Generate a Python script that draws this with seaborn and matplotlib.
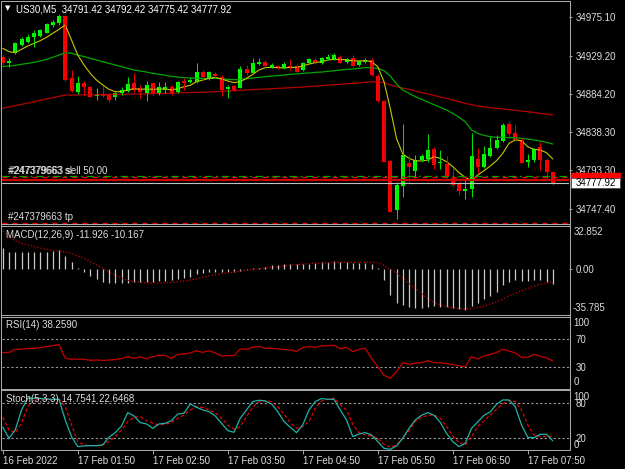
import numpy as np
import pandas as pd
import seaborn as sns
import matplotlib.pyplot as plt
from matplotlib.lines import Line2D
from matplotlib.patches import Rectangle

# ---- data (US30, M5) ----
opens = [
    34928.4, 34920.4, 34932.3, 34942.6, 34946.2, 34951.3, 34952.9, 34956.9, 34966.0, 34968.0,
    34976.7, 34902.6, 34886.8, 34897.5, 34891.9, 34882.0, 34884.0, 34882.4, 34880.8, 34885.6,
    34888.0, 34897.5, 34890.7, 34884.8, 34896.7, 34885.6, 34888.8, 34891.9, 34886.8, 34899.8,
    34898.3, 34898.7, 34910.5, 34901.4, 34907.8, 34904.6, 34889.6, 34893.5, 34891.5, 34913.3,
    34908.6, 34919.6, 34922.4, 34915.7, 34917.3, 34914.5, 34917.3, 34917.3, 34912.5, 34920.4,
    34924.4, 34920.4, 34925.2, 34925.6, 34928.4, 34921.6, 34926.4, 34918.1, 34922.0, 34924.4,
    34905.4, 34876.1, 34804.4, 34746.2, 34775.1, 34802.4, 34792.5, 34805.6, 34806.4, 34818.3,
    34801.6, 34800.8, 34784.6, 34777.1, 34769.2, 34771.1, 34806.4, 34797.7, 34810.4, 34820.3,
    34828.2, 34848.4, 34838.1, 34829.4, 34803.6, 34805.6, 34821.4, 34805.6, 34791.42]
highs = [
    34930.3, 34926.4, 34946.2, 34951.3, 34954.9, 34960.0, 34960.8, 34968.8, 34971.9, 34979.0,
    34977.9, 34912.5, 34905.8, 34899.8, 34893.5, 34891.5, 34893.5, 34884.8, 34886.8, 34892.7,
    34904.6, 34908.6, 34894.7, 34899.8, 34898.7, 34898.7, 34898.7, 34894.7, 34899.8, 34902.6,
    34902.6, 34920.4, 34912.5, 34910.9, 34910.5, 34906.6, 34894.7, 34894.3, 34917.3, 34918.5,
    34926.4, 34926.4, 34924.4, 34921.2, 34918.5, 34922.0, 34925.2, 34919.6, 34922.4, 34926.4,
    34926.4, 34928.4, 34931.1, 34932.3, 34929.9, 34927.2, 34929.9, 34924.4, 34926.4, 34926.4,
    34907.4, 34876.9, 34805.6, 34779.9, 34848.4, 34811.5, 34811.5, 34812.3, 34836.5, 34821.4,
    34817.5, 34810.7, 34795.7, 34779.9, 34782.6, 34838.1, 34819.5, 34822.2, 34833.3, 34835.3,
    34849.2, 34851.9, 34847.2, 34831.3, 34812.7, 34820.3, 34827.4, 34807.6, 34792.42]
lows = [
    34918.5, 34915.7, 34931.5, 34941.0, 34944.2, 34940.2, 34952.1, 34956.1, 34964.0, 34966.0,
    34899.8, 34886.8, 34883.6, 34882.8, 34880.0, 34876.9, 34880.8, 34874.9, 34876.9, 34882.8,
    34886.8, 34886.8, 34878.9, 34876.1, 34882.8, 34882.8, 34884.8, 34882.8, 34885.6, 34888.8,
    34896.7, 34897.5, 34900.6, 34900.6, 34903.4, 34881.6, 34878.9, 34888.0, 34890.7, 34906.6,
    34907.8, 34918.5, 34915.7, 34914.5, 34913.3, 34913.3, 34912.5, 34908.6, 34911.3, 34919.2,
    34919.2, 34919.2, 34924.4, 34924.4, 34920.4, 34920.8, 34916.5, 34917.3, 34920.4, 34905.4,
    34874.9, 34802.8, 34743.4, 34735.5, 34762.0, 34779.9, 34783.8, 34804.4, 34803.6, 34794.5,
    34794.5, 34783.8, 34773.9, 34764.0, 34758.9, 34761.2, 34789.8, 34795.7, 34809.6, 34818.3,
    34827.4, 34833.3, 34828.2, 34801.6, 34796.9, 34803.6, 34793.7, 34781.8, 34775.42]
closes = [
    34921.2, 34923.6, 34945.0, 34948.9, 34952.1, 34956.9, 34960.0, 34967.2, 34969.9, 34976.7,
    34900.6, 34888.0, 34896.7, 34891.9, 34880.8, 34883.2, 34882.0, 34876.9, 34884.8, 34888.4,
    34895.9, 34888.8, 34886.8, 34894.7, 34884.0, 34892.7, 34891.9, 34884.0, 34898.7, 34896.7,
    34900.6, 34910.5, 34904.6, 34910.1, 34905.4, 34888.8, 34892.7, 34888.8, 34913.3, 34908.6,
    34920.4, 34922.4, 34917.3, 34918.5, 34914.5, 34919.6, 34915.7, 34910.5, 34921.2, 34925.2,
    34921.2, 34926.8, 34927.6, 34929.9, 34921.2, 34926.0, 34917.7, 34923.2, 34924.4, 34906.6,
    34876.1, 34803.6, 34744.2, 34775.9, 34811.5, 34797.7, 34805.6, 34810.7, 34817.5, 34799.7,
    34803.6, 34785.0, 34775.9, 34768.8, 34770.8, 34810.4, 34796.9, 34812.7, 34820.3, 34829.4,
    34847.2, 34836.5, 34829.4, 34802.4, 34805.6, 34818.3, 34805.6, 34791.7, 34777.92]

ma_fast = [
    34938.3, 34934.3, 34933.1, 34937.1, 34941.0, 34944.2, 34947.4, 34951.3, 34956.1, 34960.8,
    34966.0, 34948.2, 34930.3, 34918.5, 34908.6, 34900.6, 34894.7, 34889.6, 34886.8, 34886.8,
    34888.8, 34890.3, 34889.6, 34890.0, 34889.6, 34890.0, 34890.0, 34888.8, 34890.3, 34892.7,
    34894.3, 34898.7, 34900.6, 34902.6, 34903.8, 34901.8, 34899.5, 34897.5, 34898.7, 34902.6,
    34907.4, 34912.5, 34915.3, 34915.7, 34915.3, 34915.0, 34915.7, 34915.7, 34917.3, 34919.6,
    34921.2, 34922.4, 34924.4, 34925.2, 34925.2, 34924.4, 34923.6, 34923.2, 34923.6, 34922.4,
    34916.5, 34898.7, 34867.0, 34831.3, 34812.7, 34807.6, 34804.8, 34804.4, 34805.6, 34809.6,
    34807.6, 34803.6, 34797.7, 34790.6, 34785.0, 34781.0, 34787.8, 34792.9, 34798.5, 34804.8,
    34813.5, 34825.4, 34829.4, 34828.6, 34821.4, 34818.3, 34817.5, 34814.3, 34806.8]
ma_mid = [
    34916.5, 34917.3, 34918.1, 34919.3, 34920.4, 34921.6, 34923.2, 34925.2, 34927.6, 34930.3,
    34933.1, 34932.3, 34930.3, 34928.4, 34926.4, 34924.4, 34922.4, 34920.4, 34918.5, 34916.5,
    34914.5, 34912.5, 34911.3, 34910.1, 34908.6, 34907.4, 34906.2, 34905.0, 34904.2, 34903.4,
    34903.0, 34902.6, 34902.6, 34902.6, 34902.6, 34902.2, 34901.4, 34901.0, 34901.4, 34902.2,
    34903.0, 34903.8, 34904.6, 34905.4, 34905.8, 34906.6, 34907.4, 34907.8, 34908.6, 34909.0,
    34909.7, 34910.1, 34910.9, 34911.7, 34912.5, 34913.3, 34913.7, 34914.5, 34915.3, 34915.3,
    34914.5, 34911.7, 34905.4, 34895.9, 34888.8, 34884.8, 34880.8, 34877.7, 34874.5, 34871.3,
    34868.2, 34865.0, 34861.0, 34856.3, 34851.1, 34841.2, 34837.3, 34834.9, 34833.3, 34832.5,
    34832.5, 34832.1, 34832.1, 34831.3, 34830.5, 34829.4, 34828.2, 34826.6, 34824.6]
ma_slow = [
    34867.0, 34868.6, 34870.1, 34871.7, 34873.3, 34874.9, 34876.5, 34878.1, 34879.7, 34881.2,
    34882.8, 34882.8, 34882.8, 34883.0, 34883.2, 34883.2, 34883.4, 34883.6, 34883.6, 34883.6,
    34883.8, 34884.0, 34884.0, 34884.2, 34884.4, 34884.6, 34884.8, 34885.0, 34885.2, 34885.6,
    34885.8, 34886.0, 34886.2, 34886.4, 34886.8, 34887.2, 34887.6, 34888.0, 34888.4, 34888.8,
    34889.2, 34889.6, 34890.0, 34890.3, 34890.7, 34891.1, 34891.5, 34891.9, 34892.3, 34892.9,
    34893.5, 34893.9, 34894.5, 34895.1, 34895.5, 34896.1, 34896.7, 34897.3, 34897.9, 34898.5,
    34898.7, 34897.5, 34894.7, 34892.7, 34891.1, 34889.6, 34887.6, 34885.6, 34884.0, 34882.4,
    34880.4, 34878.9, 34876.9, 34874.9, 34872.9, 34871.3, 34869.8, 34868.6, 34867.8, 34867.0,
    34866.2, 34865.4, 34864.6, 34863.8, 34863.0, 34862.2, 34861.0, 34860.2, 34859.0]

macd_main = [
    16.2, 13.6, 13.6, 13.6, 13.6, 13.6, 13.6, 13.6, 14.4, 14.9,
    10.1, 5.6, 0.8, -2.4, -5.8, -8.5, -10.3, -11.1, -11.7, -11.7,
    -11.1, -10.6, -10.6, -10.6, -10.3, -10.1, -9.6, -9.0, -7.9, -7.4,
    -6.4, -4.5, -3.7, -2.7, -2.4, -2.7, -2.9, -2.9, -2.1, -1.1,
    0.2, 0.8, 1.6, 2.7, 3.2, 3.5, 3.7, 3.7, 3.5, 3.7,
    4.3, 5.3, 5.0, 5.8, 5.3, 5.0, 4.8, 4.5, 4.3, 3.7,
    0.3, -9.0, -21.0, -27.1, -29.0, -30.8, -31.6, -31.6, -30.3, -29.8,
    -30.8, -30.8, -31.6, -32.4, -33.0, -29.8, -27.6, -24.5, -21.8, -18.4,
    -13.0, -10.3, -9.0, -9.6, -9.8, -9.0, -9.0, -10.3, -11.926]
macd_signal = [
    30.0, 25.5, 22.3, 20.2, 18.9, 17.8, 16.5, 15.4, 14.6, 14.1,
    13.3, 12.2, 10.1, 8.2, 5.6, 2.9, 0.3, -2.7, -5.3, -7.4,
    -9.3, -10.4, -10.9, -11.2, -11.4, -11.4, -11.2, -10.9, -10.4, -9.8,
    -9.0, -8.0, -6.9, -5.8, -4.8, -4.0, -3.2, -2.7, -1.9, -1.3,
    -0.8, 0.0, 0.5, 1.1, 1.6, 2.1, 2.7, 3.2, 3.7, 4.0,
    4.3, 4.5, 4.8, 5.1, 5.1, 5.1, 5.1, 5.1, 5.1, 5.1,
    4.8, 2.7, -0.5, -3.7, -7.2, -11.7, -15.7, -19.7, -23.7, -26.8,
    -29.0, -30.3, -31.4, -31.9, -32.2, -31.6, -30.8, -29.8, -28.2, -26.3,
    -24.5, -21.8, -19.7, -17.5, -15.7, -13.8, -12.5, -11.4, -10.167]

rsi = [
    50.1, 50.5, 54.8, 55.3, 55.8, 56.3, 57.2, 58.6, 60.1, 61.5,
    42.0, 40.6, 41.0, 40.6, 39.1, 39.6, 39.1, 39.6, 40.1, 41.5,
    44.4, 42.0, 43.9, 41.0, 44.4, 46.3, 45.8, 42.0, 47.7, 48.2,
    49.6, 52.9, 50.5, 52.9, 49.6, 45.3, 45.8, 45.8, 55.3, 54.8,
    57.7, 59.1, 56.3, 56.3, 55.3, 54.8, 53.9, 52.0, 57.2, 58.6,
    57.7, 59.6, 60.1, 60.5, 55.8, 57.7, 51.5, 54.8, 56.3, 42.0,
    30.1, 17.7, 13.4, 22.9, 35.8, 33.4, 34.8, 35.8, 38.6, 35.8,
    35.8, 34.4, 32.9, 31.5, 30.1, 44.4, 41.0, 45.3, 47.7, 50.1,
    54.8, 52.5, 49.6, 43.4, 43.4, 47.7, 44.8, 42.5, 38.259]

stoch_main = [
    37.9, 19.0, 33.3, 67.6, 87.6, 87.6, 87.6, 85.9, 85.9, 85.9,
    50.4, 21.9, 4.7, 5.9, 6.4, 6.4, 7.6, 20.7, 28.7, 40.1,
    63.0, 57.3, 45.9, 43.6, 36.1, 43.6, 44.7, 49.3, 60.7, 61.9,
    77.9, 72.2, 67.6, 64.7, 57.3, 44.7, 32.1, 29.3, 53.3, 67.6,
    81.9, 84.2, 83.0, 77.9, 64.7, 47.6, 37.9, 28.7, 41.9, 67.6,
    81.9, 87.0, 85.9, 85.9, 67.6, 50.4, 21.9, 26.4, 28.7, 24.7,
    13.3, 1.8, 0.1, 5.9, 19.0, 36.1, 50.4, 58.4, 63.0, 58.4,
    46.4, 27.6, 13.3, 4.7, 10.4, 36.1, 47.0, 58.4, 64.2, 77.3,
    84.7, 84.7, 73.3, 41.9, 20.7, 20.1, 25.8, 25.8, 14.7541]
stoch_signal = [
    55.0, 33.3, 28.7, 44.7, 73.3, 84.7, 85.9, 85.9, 85.9, 85.9,
    73.3, 41.9, 13.3, 7.6, 6.4, 6.4, 7.6, 13.3, 21.9, 33.3,
    47.6, 55.0, 56.2, 49.3, 44.7, 41.9, 43.0, 46.4, 53.3, 59.0,
    67.6, 73.3, 71.6, 67.6, 63.0, 53.3, 41.9, 34.4, 39.0, 56.2,
    72.2, 81.9, 83.6, 81.9, 73.3, 60.7, 45.9, 36.1, 39.0, 47.6,
    70.4, 83.0, 85.9, 87.6, 76.2, 67.6, 43.0, 28.7, 24.7, 23.0,
    19.0, 8.7, 3.6, 7.6, 19.0, 32.1, 47.6, 55.0, 58.4, 59.0,
    53.3, 39.0, 23.0, 11.6, 7.6, 21.9, 39.0, 48.7, 59.0, 68.7,
    77.9, 83.6, 81.9, 67.6, 41.9, 24.7, 21.9, 21.9, 22.6468]

price_ticks = [34975.10, 34929.20, 34884.20, 34838.30, 34793.30, 34747.40]
time_ticks = [0, 12, 24, 36, 48, 60, 72, 84]
time_labels = ['16 Feb 2022', '17 Feb 01:50', '17 Feb 02:50', '17 Feb 03:50',
               '17 Feb 04:50', '17 Feb 05:50', '17 Feb 06:50', '17 Feb 07:50']
ticket = '#247379663'
order_price = 34787.0
sl_price = 34786.0
ask_price = 34782.2
tp_price = 34730.8
macd_max, macd_min = 32.852, -35.785

# ---- layout (pixels of a 625x469 canvas) ----
W, H = 625, 469
GRID = '#a8a8a8'
TXT = '#dcdcdc'


def fx(x):
    return x / W


def fy(y):
    return 1 - y / H


def panel(top, bottom):
    ax = fig.add_axes([fx(2), fy(bottom), 567 / W, (bottom - top) / H])
    ax.set_facecolor('black')
    for s in ax.spines.values():
        s.set_visible(False)
    ax.set_xlim((2 - 2.75) / 6.25, (569 - 2.75) / 6.25)
    ax.set_xticks([])
    ax.yaxis.tick_right()
    ax.tick_params(axis='y', colors=GRID, labelcolor=TXT, labelsize=7,
                   length=2.5, width=0.7, pad=2.5)
    ax.grid(False)
    return ax


def fig_line(xs, ys, **kw):
    fig.add_artist(Line2D([fx(v) for v in xs], [fy(v) for v in ys],
                          transform=fig.transFigure, **kw))


def fig_text(x, y, s, **kw):
    kw.setdefault('color', TXT)
    kw.setdefault('fontsize', 7)
    fig.text(fx(x), fy(y), s, va='center', ha='left', **kw)


sns.set_style('dark')
plt.rcParams['font.family'] = ['Liberation Sans', 'DejaVu Sans']
fig = plt.figure(figsize=(6.25, 4.69), dpi=100, facecolor='black')

bars = np.arange(len(closes))
df = pd.DataFrame({'bar': bars, 'open': opens, 'high': highs, 'low': lows,
                   'close': closes, 'fast': ma_fast, 'mid': ma_mid, 'slow': ma_slow,
                   'macd': macd_main, 'signal': macd_signal, 'rsi': rsi,
                   'k': stoch_main, 'd': stoch_signal})
up = df['close'] >= df['open']

# ---- main price panel ----
ax = panel(2, 224)
ax.set_ylim(34729.6, 34993.3)
for col, lw, c in [('slow', 0.9, '#b40000'), ('mid', 0.9, '#00a800'), ('fast', 0.8, '#c8c800')]:
    sns.lineplot(data=df, x='bar', y=col, ax=ax, color=c, linewidth=lw, legend=False)
ax.vlines(df['bar'][up], df['low'][up], df['high'][up], color='#00e000', lw=0.75)
ax.vlines(df['bar'][~up], df['low'][~up], df['high'][~up], color='#e00000', lw=0.75)
body = (df['close'] - df['open']).abs().clip(lower=0.6)
ax.bar(df['bar'][up], body[up], bottom=df['open'][up], width=0.64, color='#00ff00', lw=0)
ax.bar(df['bar'][~up], body[~up], bottom=df['close'][~up], width=0.64, color='#ff0000', lw=0)

ax.axhline(sl_price, color='#ff0000', lw=0.9, ls=(0, (4, 4)))
ax.axhline(order_price, color='#00a000', lw=0.9, ls=(0, (6, 3, 1.5, 3)))
ax.axhline(ask_price, color='#d00000', lw=1.6)
ax.axhline(closes[-1], color='#c0c0c0', lw=0.8)
ax.axhline(tp_price, color='#ff0000', lw=0.9, ls=(0, (4, 4)))
ax.set_yticks(price_ticks, [f'{p:.2f}' for p in price_ticks])
ax.set_ylabel('')
ax.set_xlabel('')
ax.text(0.01, order_price, f'{ticket} sl', transform=ax.get_yaxis_transform(),
        color=TXT, fontsize=7, va='bottom', ha='left')
ax.text(0.0115, order_price - 0.6, f'{ticket} sell 50.00', transform=ax.get_yaxis_transform(),
        color=TXT, fontsize=7, va='bottom', ha='left')
ax.text(0.01, tp_price + 1.0, f'{ticket} tp', transform=ax.get_yaxis_transform(),
        color=TXT, fontsize=7, va='bottom', ha='left')

fig_text(4.5, 8.5, '\u25bc', fontsize=5, family=['DejaVu Sans'], color='white')
fig_text(15.5, 9.3, f'US30,M5  {opens[-1]:.2f} {highs[-1]:.2f} {lows[-1]:.2f} {closes[-1]:.2f}',
         color='white')

# bid / ask price boxes on the scale
fig.patches.append(Rectangle((fx(570.5), fy(180)), 49.5 / W, 6.5 / H,
                             transform=fig.transFigure, color='#ff0000', zorder=5))
fig.patches.append(Rectangle((fx(570.5), fy(187.5)), 49.5 / W, 9.8 / H,
                             transform=fig.transFigure, facecolor='white',
                             edgecolor='#404040', lw=0.5, zorder=6))
fig.text(fx(595.5), fy(182.6), f'{closes[-1]:.2f}', color='black', fontsize=7,
         ha='center', va='center', zorder=7)

# ---- MACD panel ----
ax2 = panel(226, 315)
ax2.set_ylim(-36.9, 34.05)
ax2.vlines(df['bar'], 0, df['macd'], color='#c8c8c8', lw=0.9)
sns.lineplot(data=df, x='bar', y='signal', ax=ax2, color='#d00000', linewidth=0.9,
             linestyle=(0, (1, 1.6)), legend=False)
ax2.set_yticks([0], ['0.00'])
ax2.set_ylabel('')
ax2.set_xlabel('')
fig_text(6, 234.5, f'MACD(12,26,9) {macd_main[-1]:.3f} {macd_signal[-1]:.3f}')
fig_text(573.5, 232.3, f'{macd_max:.3f}')
fig_text(572.5, 308.3, f'{macd_min:.3f}')

# ---- RSI panel ----
ax3 = panel(317, 388)
ax3.set_ylim(-0.43, 101.0)
for lvl in (70, 30):
    ax3.axhline(lvl, color='#9a9a9a', lw=0.8, ls=(0, (2, 2)))
sns.lineplot(data=df, x='bar', y='rsi', ax=ax3, color='#c80000', linewidth=0.9, legend=False)
ax3.set_yticks([70, 30], ['70', '30'])
ax3.tick_params(axis='y', length=0, pad=5)
ax3.set_ylabel('')
ax3.set_xlabel('')
fig_text(6, 325, f'RSI(14) {rsi[-1]:.4f}')
fig_text(573.5, 323.3, '100')
fig_text(573.5, 382.3, '0')

# ---- Stochastic panel ----
ax4 = panel(390.5, 450)
ax4.set_ylim(-1.08, 100.9)
for lvl in (80, 20):
    ax4.axhline(lvl, color='#9a9a9a', lw=0.8, ls=(0, (2, 2)))
sns.lineplot(data=df, x='bar', y='d', ax=ax4, color='#ff0000', linewidth=0.8,
             linestyle=(0, (3, 2)), legend=False)
sns.lineplot(data=df, x='bar', y='k', ax=ax4, color='#20b2aa', linewidth=0.9, legend=False)
ax4.set_yticks([80, 20], ['80', '20'])
ax4.tick_params(axis='y', length=0, pad=5)
ax4.set_ylabel('')
ax4.set_xlabel('')
fig_text(6, 399.3, f'Stoch(5,3,3) {stoch_main[-1]:.4f} {stoch_signal[-1]:.4f}')
fig_text(573.5, 397.3, '100')
fig_text(573.5, 445, '0')

# time axis under the last panel
ax4.set_xticks(time_ticks, time_labels)
ax4.tick_params(axis='x', colors=GRID, labelcolor=TXT, labelsize=7, length=3,
                width=0.7, pad=1.5, bottom=True)
plt.setp(ax4.get_xticklabels(), ha='left')

# ---- window borders ----
for y in (1.5, 224.5, 226.3, 315.3, 317.2, 388.6, 390.4, 450.2):
    fig_line([1.5, 569.5], [y, y], color=GRID, lw=0.75)
fig_line([1.5, 1.5], [1.5, 450.2], color=GRID, lw=0.75)
fig_line([569.5, 569.5], [1.5, 450.2], color=GRID, lw=0.75)

fig.savefig('out.png', dpi=100, facecolor='black')
